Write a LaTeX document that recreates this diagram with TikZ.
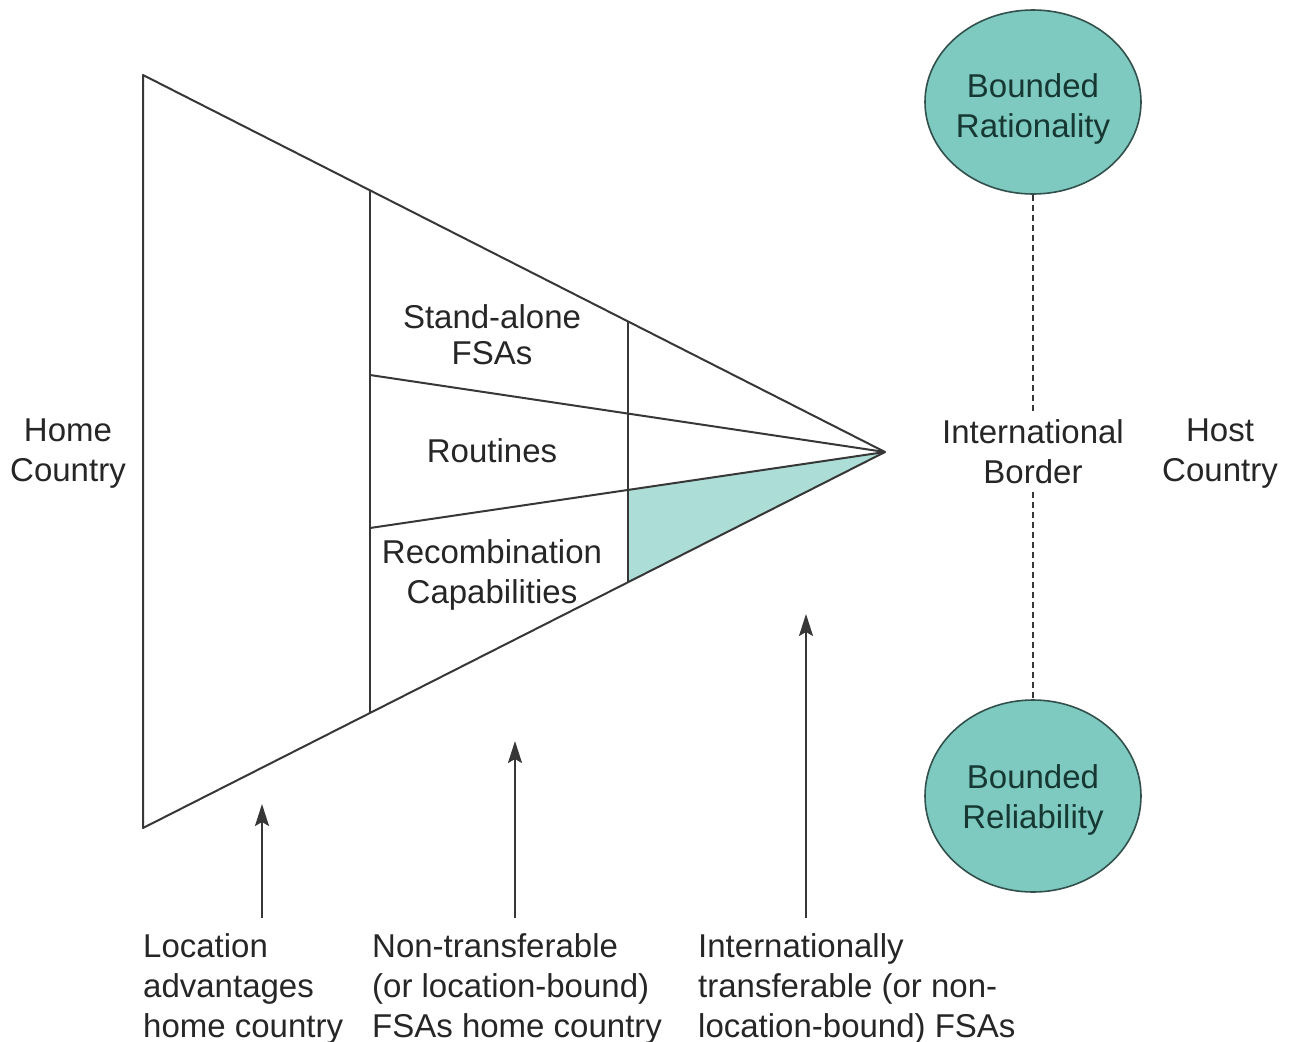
\documentclass[tikz,border=0pt]{standalone}
\usepackage{fontspec}
\setmainfont{Liberation Sans}
\usetikzlibrary{arrows.meta,shapes.geometric}
\definecolor{tealA}{RGB}{126,201,192}
\definecolor{tealB}{RGB}{172,222,215}
\definecolor{linecol}{RGB}{55,55,55}
\definecolor{ctext}{RGB}{22,55,50}
\definecolor{cedge}{RGB}{50,80,76}
\begin{document}
\begin{tikzpicture}[x=1pt,y=-1pt,
  lbl/.style={font=\fontsize{33}{40}\selectfont, inner sep=0pt, text=black!85},
  ctr/.style={lbl, align=center, anchor=north},
  lft/.style={lbl, align=left, anchor=north west},
  edge/.style={draw=linecol, line width=2pt, line join=round},
  bubble/.style={ellipse, draw=cedge, line width=1.6pt, fill=tealA, minimum width=216pt},
  bubtext/.style={ctr, text=ctext},
  border/.style={draw=linecol, line width=1.6pt, dash pattern=on 6pt off 4pt},
  uparrow/.style={draw=linecol, line width=2pt, -{Stealth[length=22pt,width=14pt,inset=4pt]}}
]
\useasboundingbox (0,0) rectangle (1294,1042);
% triangle geometry
\coordinate (tl) at (143,75);
\coordinate (bl) at (143,828);
\coordinate (apex) at (885,452);
\coordinate (v1t) at (370,190.3);
\coordinate (v1b) at (370,713);
\coordinate (v2t) at (628,321.4);
\coordinate (v2b) at (628,582);
\coordinate (s1) at (370,375);
\coordinate (s2) at (370,528);
\coordinate (m2) at (628,490);
% shaded part
\fill[tealB] (m2) -- (v2b) -- (apex) -- cycle;
% outline and divisions
\draw[edge] (tl) -- (bl) -- (apex) -- cycle;
\draw[edge] (v1t) -- (v1b);
\draw[edge] (v2t) -- (v2b);
\draw[edge] (s1) -- (apex);
\draw[edge] (s2) -- (apex);
% texts in triangle
\node[ctr] (standalone) at (492,304) {Stand-alone\\[-4pt]FSAs};
\node[lbl, anchor=base] (routines) at (492,462) {Routines};
\node[ctr] (recomb) at (492,539) {Recombination\\Capabilities};
% side labels
\node[ctr] (home) at (68,419) {Home\\Country};
\node[ctr] (host) at (1220,419) {Host\\Country};
\node[ctr, inner sep=8pt] (intl) at (1033,411) {International\\Border};
% bubbles
\node[bubble, minimum height=184pt] (rat) at (1033,102) {};
\node[bubtext] (rattext) at (1033,73) {Bounded\\Rationality};
\node[bubble, minimum height=192pt] (rel) at (1033,796) {};
\node[bubtext] (reltext) at (1033,764) {Bounded\\Reliability};
\draw[border] (rat.south) -- (intl.north);
\draw[border] (intl.south) -- (rel.north);
% bottom labels
\node[lft] (loc) at (143,933) {Location\\advantages\\home country};
\node[lft] (nontr) at (372,933) {Non-transferable\\(or location-bound)\\FSAs home country};
\node[lft] (intr) at (698,933) {Internationally\\transferable (or non-\\location-bound) FSAs};
% arrows
\coordinate (a1s) at (262,918); \coordinate (a1e) at (262,804);
\coordinate (a2s) at (515,918); \coordinate (a2e) at (515,741);
\coordinate (a3s) at (806,918); \coordinate (a3e) at (806,614);
\draw[uparrow] (a1s) -- (a1e);
\draw[uparrow] (a2s) -- (a2e);
\draw[uparrow] (a3s) -- (a3e);
\end{tikzpicture}
\end{document}
